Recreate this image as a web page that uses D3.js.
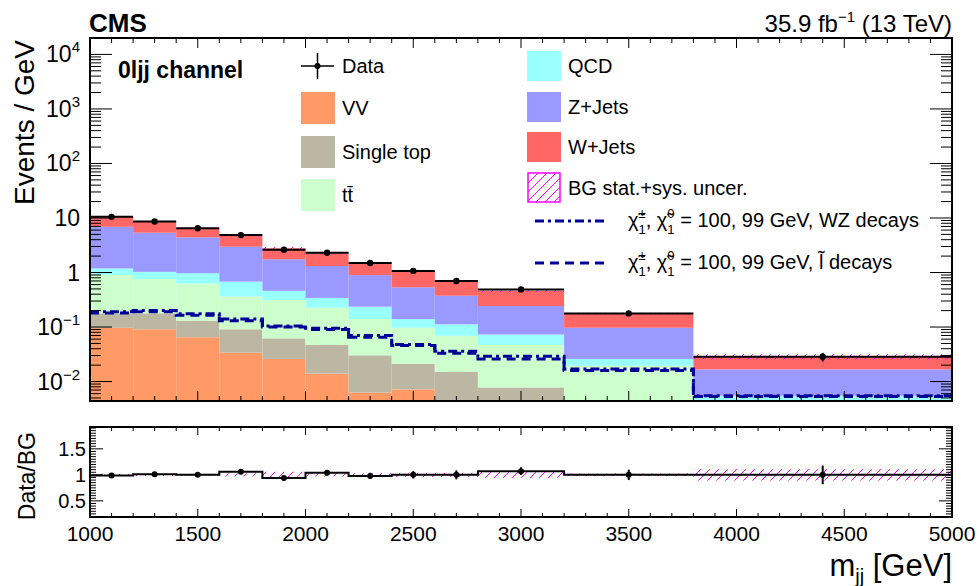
<!DOCTYPE html>
<html><head><meta charset="utf-8">
<script src="https://cdn.jsdelivr.net/npm/d3@7"></script>
<style>body{margin:0;background:#fff} svg{font-family:"Liberation Sans",Arial,Helvetica,sans-serif} text{white-space:pre}</style>
</head><body><svg id="c" width="980" height="586"></svg>
<script>
// ---------------- data ----------------
const binEdges  = [1000,1200,1400,1600,1800,2000,2200,2400,2600,2800,3200,3800,5000];
const vv        = [0.097,0.091,0.065,0.034,0.026,0.014,0.0063,0.0072,0.002,0.001,0.001,0.0005];
const singleTop = [0.081,0.087,0.065,0.057,0.036,0.033,0.024,0.014,0.013,0.0068,0.001,0.0005];
const ttbar     = [0.72,0.58,0.50,0.27,0.25,0.18,0.11,0.076,0.054,0.039,0.0175,0.001];
const qcd       = [0.29,0.27,0.34,0.32,0.15,0.115,0.096,0.043,0.043,0.026,0.0065,0.0035];
const zjets     = [5.7,4.34,3.45,2.29,1.29,0.975,0.66,0.395,0.263,0.17,0.071,0.0112];
const wjets     = [3.7,3.18,2.04,1.76,1.03,0.93,0.61,0.535,0.325,0.22,0.081,0.0118];
const dataVals  = [10.5,8.6,6.5,4.85,2.62,2.3,1.49,1.07,0.70,0.49,0.178,0.0285];
const ratioVals = [0.99,1.01,1.0,1.06,0.94,1.04,0.98,1.0,1.0,1.07,1.0,1.0];
const ratioErr  = [0.02,0.025,0.03,0.035,0.04,0.05,0.06,0.07,0.085,0.075,0.1,0.18];
const bgUnc     = [0.02,0.02,0.02,0.03,0.06,0.03,0.03,0.04,0.04,0.06,0.025,0.11];
const sigWZ     = [0.19,0.20,0.175,0.14,0.105,0.095,0.07,0.048,0.036,0.029,0.017,0.0055];
const sigSlep   = [0.18,0.19,0.165,0.13,0.10,0.09,0.065,0.046,0.033,0.026,0.016,0.0053];

const xTickValues = [1000,1500,2000,2500,3000,3500,4000,4500,5000];
const xTickLabels = ["1000","1500","2000","2500","3000","3500","4000","4500","5000"];
const yTickValues = [0.01,0.1,1,10,100,1000,10000];
const yTickLabels = [["10","\u22122"],["10","\u22121"],["1",""],["10",""],["10","2"],["10","3"],["10","4"]];
const rTickValues = [0.5,1,1.5];
const rTickLabels = ["0.5","1","1.5"];

// ---------------- layout ----------------
const svg = d3.select("#c");
const L=90, R=952, T=38, B=401, RT=427, RB=517;
const x  = d3.scaleLinear().domain([1000,5000]).range([L,R]);
const y  = d3.scaleLog().domain([0.0044,20000]).range([B,T]);
const yr = d3.scaleLinear().domain([0.19,1.92]).range([RB,RT]);
const yMin = y.domain()[0];
const nb = binEdges.length-1;
const bins = d3.range(nb).map(i=>({i, x0:binEdges[i], x1:binEdges[i+1], xc:(binEdges[i]+binEdges[i+1])/2}));

const defs = svg.append("defs");
const pat = defs.append("pattern").attr("id","hatch").attr("patternUnits","userSpaceOnUse").attr("width",9).attr("height",9);
pat.append("path").attr("d","M-2,2 L2,-2 M0,9 L9,0 M7,11 L11,7").attr("stroke","#ff00ff").attr("stroke-width",1);
defs.append("clipPath").attr("id","cm").append("rect").attr("x",L).attr("y",T).attr("width",R-L).attr("height",B-T);
defs.append("clipPath").attr("id","cr").append("rect").attr("x",L).attr("y",RT).attr("width",R-L).attr("height",RB-RT);

function rich(parent, px, py, segs, anchor){
  const g = parent.append("g");
  let cx=0, prevStart=0;
  segs.forEach(s=>{
    const start = s.ov ? prevStart : cx;
    const t = g.append("text").attr("x",start).attr("y",s.dy||0).attr("font-size",s.sz).attr("xml:space","preserve").text(s.t);
    if(s.b) t.attr("font-weight","bold");
    const w = t.node().getComputedTextLength();
    if(s.ov){ cx = Math.max(cx, start+w); } else { cx = start+w; prevStart = start; }
  });
  const off = anchor==="end" ? -cx : anchor==="middle" ? -cx/2 : 0;
  g.attr("transform",`translate(${px+off},${py})`);
  return g;
}

// ---------------- main panel: stack ----------------
const series = [
  {name:"VV", vals:vv, color:"#ff9966"},
  {name:"Single top", vals:singleTop, color:"#bcb7a3"},
  {name:"tt", vals:ttbar, color:"#ccffcc"},
  {name:"QCD", vals:qcd, color:"#99ffff"},
  {name:"Z+Jets", vals:zjets, color:"#9999ff"},
  {name:"W+Jets", vals:wjets, color:"#ff6666"}
];
let cum = bins.map(()=>0);
series.forEach(s=>{ s.lo = cum.slice(); cum = cum.map((c,i)=>c+s.vals[i]); s.hi = cum.slice(); });
const total = cum;

const gm = svg.append("g").attr("clip-path","url(#cm)");
series.forEach(s=>{
  gm.selectAll(null).data(bins.filter(b=>s.hi[b.i]>yMin)).enter().append("rect")
    .attr("x",b=>x(b.x0)).attr("width",b=>x(b.x1)-x(b.x0))
    .attr("y",b=>y(s.hi[b.i]))
    .attr("height",b=>y(Math.max(s.lo[b.i],yMin))-y(s.hi[b.i]))
    .attr("fill",s.color);
});
// uncertainty band
gm.selectAll(null).data(bins).enter().append("rect")
  .attr("x",b=>x(b.x0)).attr("width",b=>x(b.x1)-x(b.x0))
  .attr("y",b=>y(total[b.i]*(1+bgUnc[b.i])))
  .attr("height",b=>y(total[b.i]*(1-bgUnc[b.i]))-y(total[b.i]*(1+bgUnc[b.i])))
  .attr("fill","url(#hatch)");

// signals
const stepPts = vals => bins.map(b=>[b.x0, vals[b.i]]).concat([[binEdges[nb], vals[nb-1]]]);
const sline = d3.line().x(d=>x(d[0])).y(d=>y(d[1])).curve(d3.curveStepAfter);
gm.append("path").attr("d",sline(stepPts(sigSlep))).attr("fill","none").attr("stroke","#000099").attr("stroke-width",3).attr("stroke-dasharray","9,6");
gm.append("path").attr("d",sline(stepPts(sigWZ))).attr("fill","none").attr("stroke","#000099").attr("stroke-width",3).attr("stroke-dasharray","9,4,3,4");

// data
const gd = svg.append("g");
bins.forEach(b=>{
  const v = dataVals[b.i], e = v*ratioErr[b.i];
  gd.append("line").attr("x1",x(b.x0)).attr("x2",x(b.x1)).attr("y1",y(v)).attr("y2",y(v)).attr("stroke","#000").attr("stroke-width",2);
  gd.append("line").attr("x1",x(b.xc)).attr("x2",x(b.xc)).attr("y1",y(v+e)).attr("y2",y(v-e)).attr("stroke","#000").attr("stroke-width",2);
  gd.append("circle").attr("cx",x(b.xc)).attr("cy",y(v)).attr("r",3.2).attr("fill","#000");
});

// ---------------- ratio panel ----------------
const gr = svg.append("g").attr("clip-path","url(#cr)");
gr.selectAll(null).data(bins).enter().append("rect")
  .attr("x",b=>x(b.x0)).attr("width",b=>x(b.x1)-x(b.x0))
  .attr("y",b=>yr(1+bgUnc[b.i])).attr("height",b=>yr(1-bgUnc[b.i])-yr(1+bgUnc[b.i]))
  .attr("fill","url(#hatch)");
const rline = d3.line().x(d=>x(d[0])).y(d=>yr(d[1])).curve(d3.curveStepAfter);
gr.append("path").attr("d",rline(stepPts(ratioVals))).attr("fill","none").attr("stroke","#000").attr("stroke-width",2);
bins.forEach(b=>{
  const v=ratioVals[b.i], e=ratioErr[b.i];
  gr.append("line").attr("x1",x(b.xc)).attr("x2",x(b.xc)).attr("y1",yr(v+e)).attr("y2",yr(v-e)).attr("stroke","#000").attr("stroke-width",2);
  gr.append("circle").attr("cx",x(b.xc)).attr("cy",yr(v)).attr("r",3).attr("fill","#000");
});

// ---------------- axes / ticks ----------------
const ga = svg.append("g").attr("stroke","#000").attr("stroke-width",1);
function tk(x1,y1,x2,y2){ ga.append("line").attr("x1",x1).attr("y1",y1).attr("x2",x2).attr("y2",y2); }
d3.range(1000,5001,100).forEach(v=>{
  const maj = v%500===0, px=x(v);
  const l1 = maj?10:5, l2 = maj?8:4;
  tk(px,B,px,B-l1); tk(px,T,px,T+l1);
  tk(px,RB,px,RB-l2); tk(px,RT,px,RT+l2);
});
for(let d=-3; d<=4; d++){
  for(let k=1;k<=9;k++){
    const v = k*Math.pow(10,d);
    if(v<yMin || v>y.domain()[1]) continue;
    const len = k===1?22:11, py=y(v);
    tk(L,py,L+len,py); tk(R,py,R-len,py);
  }
}
d3.range(0.2,1.9001,0.05).forEach(v=>{
  const r = Math.round(v*100)/100;
  const maj = Math.abs(r*2-Math.round(r*2))<1e-6;
  const len = maj?13:6, py=yr(r);
  tk(L,py,L+len,py); tk(R,py,R-len,py);
});
svg.append("rect").attr("x",L).attr("y",T).attr("width",R-L).attr("height",B-T).attr("fill","none").attr("stroke","#000").attr("stroke-width",2);
svg.append("rect").attr("x",L).attr("y",RT).attr("width",R-L).attr("height",RB-RT).attr("fill","none").attr("stroke","#000").attr("stroke-width",2);

// tick labels
yTickValues.forEach((v,i)=>{
  const [b,e] = yTickLabels[i];
  const segs=[{t:b,sz:23}]; if(e) segs.push({t:e,sz:15,dy:-10});
  rich(svg,80,y(v)+8,segs,"end");
});
rTickValues.forEach((v,i)=>{
  svg.append("text").attr("x",86).attr("y",yr(v)+7).attr("text-anchor","end").attr("font-size",20).text(rTickLabels[i]);
});
xTickValues.forEach((v,i)=>{
  svg.append("text").attr("x",x(v)).attr("y",541).attr("text-anchor","middle").attr("font-size",21).text(xTickLabels[i]);
});

// axis titles
svg.append("text").attr("transform","translate(34,40) rotate(-90)").attr("text-anchor","end").attr("font-size",28).text("Events / GeV");
svg.append("text").attr("transform","translate(35,432) rotate(-90)").attr("text-anchor","end").attr("font-size",23).text("Data/BG");
rich(svg,952,576,[{t:"m",sz:31},{t:"jj",sz:20,dy:7},{t:" [GeV]",sz:31}],"end");

// header
svg.append("text").attr("x",89).attr("y",32).attr("font-size",26).attr("font-weight","bold").text("CMS");
rich(svg,952,32,[{t:"35.9 fb",sz:24},{t:"\u22121",sz:15,dy:-10},{t:" (13 TeV)",sz:24}],"end");
svg.append("text").attr("x",118).attr("y",78).attr("font-size",23).attr("font-weight","bold").text("0ljj channel");

// ---------------- legend ----------------
const lg = svg.append("g");
// Data
lg.append("line").attr("x1",301).attr("x2",334).attr("y1",66).attr("y2",66).attr("stroke","#000").attr("stroke-width",1.5);
lg.append("line").attr("x1",317.5).attr("x2",317.5).attr("y1",53).attr("y2",79).attr("stroke","#000").attr("stroke-width",1.5);
lg.append("circle").attr("cx",317.5).attr("cy",66).attr("r",3).attr("fill","#000");
lg.append("text").attr("x",342).attr("y",73).attr("font-size",20).text("Data");
const leftRows = [{s:series[0],cy:108},{s:series[1],cy:152},{s:series[2],cy:195}];
leftRows.forEach(r=>{
  lg.append("rect").attr("x",301).attr("y",r.cy-16).attr("width",34).attr("height",32).attr("fill",r.s.color);
});
lg.append("text").attr("x",342).attr("y",115).attr("font-size",20).text("VV");
lg.append("text").attr("x",342).attr("y",159).attr("font-size",20).text("Single top");
lg.append("text").attr("x",342).attr("y",202).attr("font-size",20).text("t\u0074\u0304");
const rightRows = [{s:series[3],cy:66,lab:"QCD"},{s:series[4],cy:107,lab:"Z+Jets"},{s:series[5],cy:147,lab:"W+Jets"}];
rightRows.forEach(r=>{
  lg.append("rect").attr("x",527).attr("y",r.cy-15).attr("width",34).attr("height",30).attr("fill",r.s.color);
  lg.append("text").attr("x",568).attr("y",r.cy+7).attr("font-size",20).text(r.lab);
});
lg.append("rect").attr("x",528).attr("y",173).attr("width",32).attr("height",29).attr("fill","url(#hatch)").attr("stroke","#ff00ff").attr("stroke-width",1.5);
lg.append("text").attr("x",568).attr("y",195).attr("font-size",20).text("BG stat.+sys. uncer.");
lg.append("line").attr("x1",535).attr("x2",608).attr("y1",221).attr("y2",221).attr("stroke","#000099").attr("stroke-width",3).attr("stroke-dasharray","9,4,3,4");
lg.append("line").attr("x1",535).attr("x2",608).attr("y1",263).attr("y2",263).attr("stroke","#000099").attr("stroke-width",3).attr("stroke-dasharray","9,6");
const chi = [{t:"\u03c7\u0303",sz:20},{t:"\u00b1",sz:13,dy:-9},{t:"1",sz:13,dy:7,ov:true},{t:", \u03c7\u0303",sz:20},{t:"0",sz:13,dy:-9},{t:"1",sz:13,dy:7,ov:true}];
rich(lg,628,227,chi.concat([{t:" = 100, 99 GeV, WZ decays",sz:20}]),"start");
rich(lg,628,269,chi.concat([{t:" = 100, 99 GeV, l\u0303 decays",sz:20}]),"start");
</script></body></html>
